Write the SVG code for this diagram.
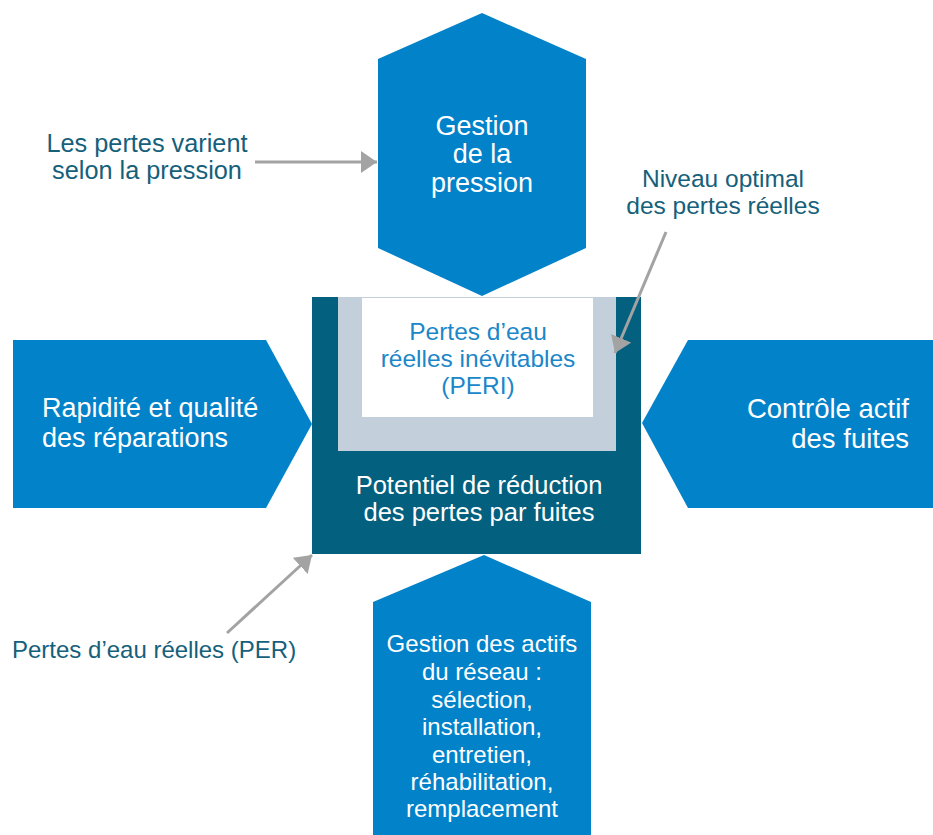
<svg xmlns="http://www.w3.org/2000/svg" width="933" height="835" viewBox="0 0 933 835">
<style>
.blue{fill:#0282C9}
.wt{fill:#FFFFFF;font-family:"Liberation Sans",Arial,sans-serif;font-size:27px}
.wm{fill:#FFFFFF;font-family:"Liberation Sans",Arial,sans-serif;font-size:25.5px}
.ws{fill:#FFFFFF;font-family:"Liberation Sans",Arial,sans-serif;font-size:24px}
.lbl{fill:#15607A;font-family:"Liberation Sans",Arial,sans-serif;font-size:24.5px}
.lbl2{fill:#15607A;font-family:"Liberation Sans",Arial,sans-serif;font-size:25.3px}
.lbl3{fill:#15607A;font-family:"Liberation Sans",Arial,sans-serif;font-size:24px}
.inner{fill:#1B87C9;font-family:"Liberation Sans",Arial,sans-serif;font-size:24.5px}
.c{text-anchor:middle}
.conn{stroke:#A3A3A3;stroke-width:3;fill:none;marker-end:url(#ah)}
</style>
<defs>
<marker id="ah" viewBox="0 0 16 22" refX="16" refY="11" markerWidth="16" markerHeight="22" markerUnits="userSpaceOnUse" orient="auto">
<path d="M0,0 L16,11 L0,22 z" fill="#A3A3A3"/>
</marker>
</defs>
<rect width="933" height="835" fill="#FFFFFF"/>

<g id="pression">
<polygon class="blue" points="482,13 586,59 586,248 482,296 378,248 378,59"/>
<text class="wt c" x="482" y="135">Gestion</text>
<text class="wt c" x="482" y="163">de la</text>
<text class="wt c" x="482" y="192">pression</text>
</g>

<g id="reparations">
<polygon class="blue" points="13,340 266,340 312,424 266,508 13,508"/>
<text class="wt" x="42" y="417">Rapidité et qualité</text>
<text class="wt" x="42" y="447">des réparations</text>
</g>

<g id="controle">
<polygon class="blue" points="933,340 688,340 642,423 688,508 933,508"/>
<text class="wt" x="909" y="418" text-anchor="end" style="font-size:27.5px">Contrôle actif</text>
<text class="wt" x="909" y="448" text-anchor="end" style="font-size:27.5px">des fuites</text>
</g>

<g id="actifs">
<polygon class="blue" points="484,555 591,602 591,835 373,835 373,602"/>
<text class="ws c" x="482" y="652">Gestion des actifs</text>
<text class="ws c" x="482" y="680">du réseau :</text>
<text class="ws c" x="482" y="708">sélection,</text>
<text class="ws c" x="482" y="735">installation,</text>
<text class="ws c" x="482" y="763">entretien,</text>
<text class="ws c" x="482" y="790">réhabilitation,</text>
<text class="ws c" x="482" y="817">remplacement</text>
</g>

<g id="potentiel">
<rect x="312" y="297" width="329" height="257" fill="#03607E"/>
<rect x="338" y="297" width="278" height="154" fill="#C3D0DB"/>
<rect x="362" y="298" width="231" height="119" fill="#FFFFFF"/>
<text class="wm c" x="479" y="494">Potentiel de réduction</text>
<text class="wm c" x="479" y="521">des pertes par fuites</text>
</g>

<g id="peri">
<text class="inner c" x="478" y="340">Pertes d’eau</text>
<text class="inner c" x="478" y="367">réelles inévitables</text>
<text class="inner c" x="478" y="394">(PERI)</text>
</g>

<g id="label-pression">
<text class="lbl2 c" x="147" y="152">Les pertes varient</text>
<text class="lbl2 c" x="147" y="179">selon la pression</text>
</g>

<g id="label-niveau">
<text class="lbl c" x="723" y="187">Niveau optimal</text>
<text class="lbl c" x="723" y="214">des pertes réelles</text>
</g>

<g id="label-per">
<text class="lbl3" x="12" y="658">Pertes d’eau réelles (PER)</text>
</g>

<g id="connectors">
<line class="conn" x1="255" y1="162" x2="377" y2="162"/>
<line class="conn" x1="666" y1="232" x2="615" y2="353"/>
<line class="conn" x1="227" y1="633" x2="312" y2="555"/>
</g>
</svg>
